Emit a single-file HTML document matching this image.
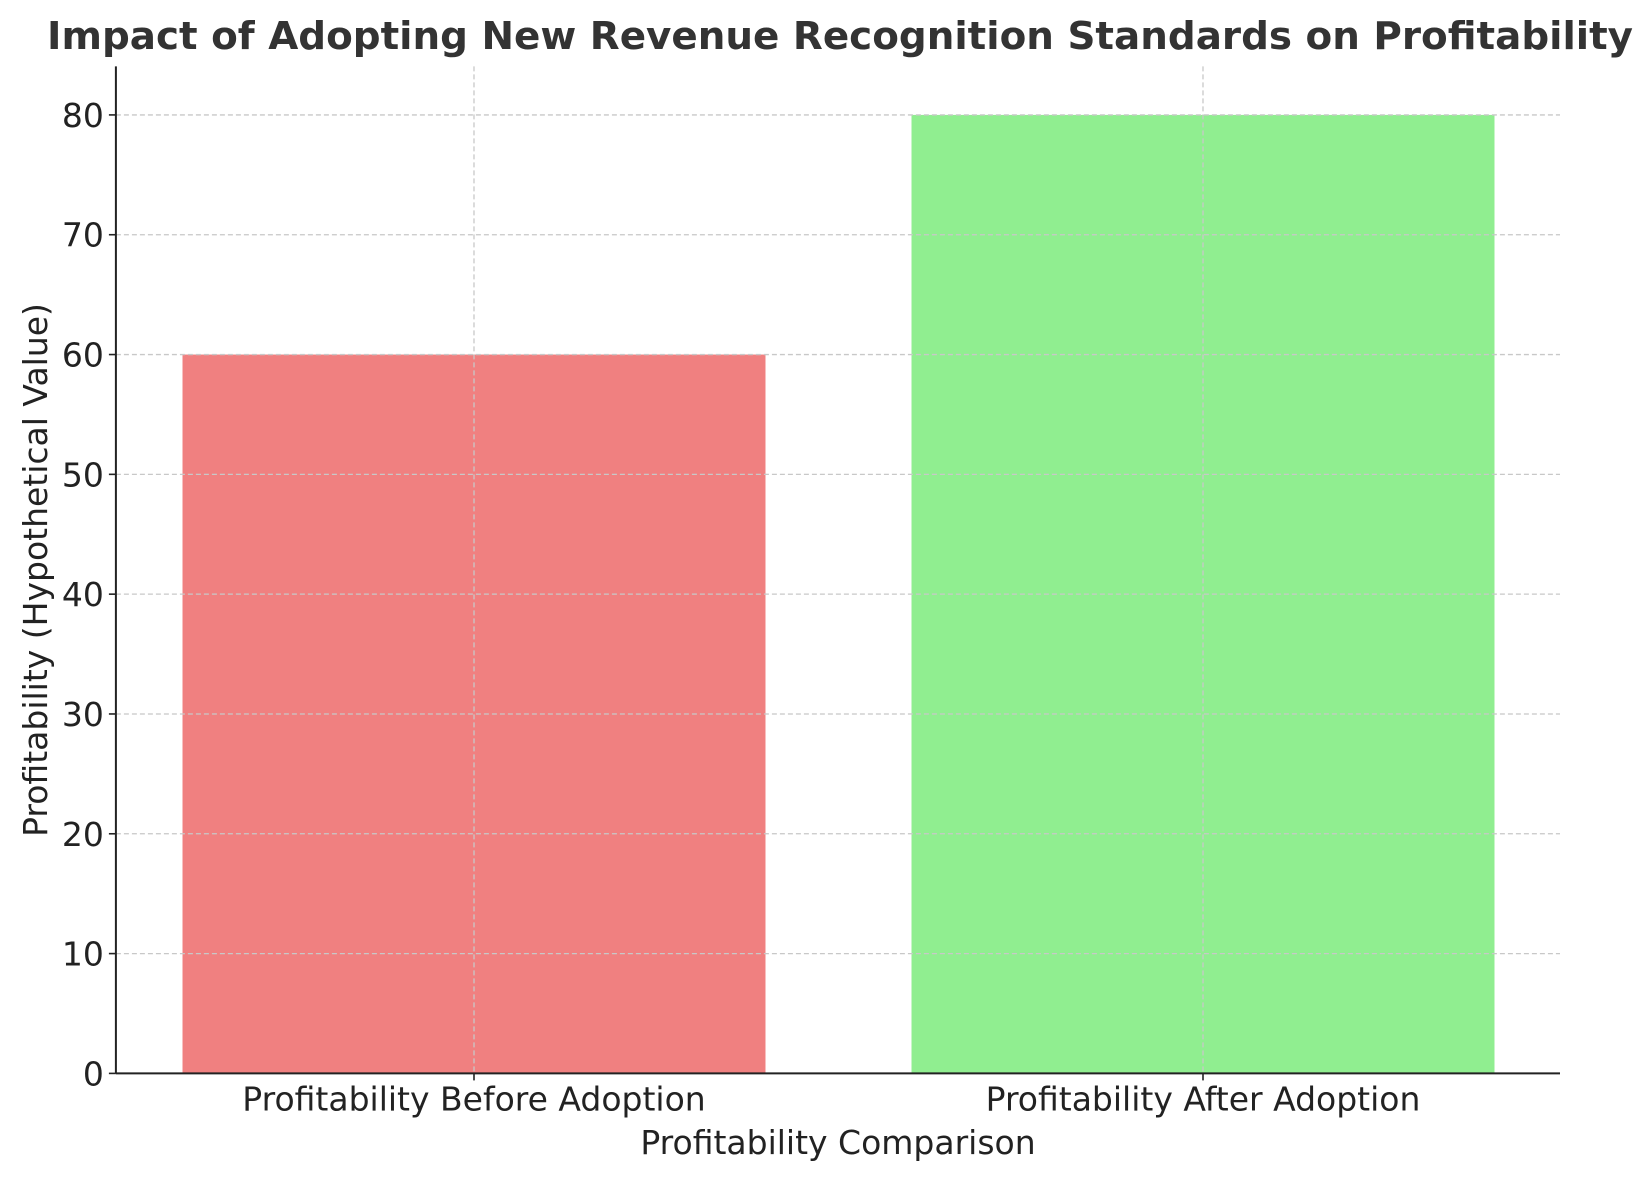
<!DOCTYPE html>
<html><head><meta charset="utf-8"><style>
html,body{margin:0;padding:0;background:#fff;}
svg{display:block;font-family:"DejaVu Sans","Liberation Sans",sans-serif;}
</style></head><body>
<svg id="chart" width="1651" height="1180" viewBox="0 0 1651 1180" xmlns="http://www.w3.org/2000/svg">
<rect width="1651" height="1180" fill="#fff"/>
<text x="840" y="49" text-anchor="middle" font-size="38" font-weight="bold" fill="#333" textLength="1586" lengthAdjust="spacingAndGlyphs">Impact of Adopting New Revenue Recognition Standards on Profitability</text>
<g id="grid"></g>
<g id="bars"></g>
<g id="axes"></g>
<text x="838" y="1154" text-anchor="middle" font-size="33" fill="#222">Profitability Comparison</text>
<text transform="translate(47,570) rotate(-90)" text-anchor="middle" font-size="33" fill="#222">Profitability (Hypothetical Value)</text>
</svg>
<script>
const categories = ["Profitability Before Adoption", "Profitability After Adoption"];
const values = [60, 80];
const barColors = ["#f08080", "#90ee90"];
const yTicks = [0, 10, 20, 30, 40, 50, 60, 70, 80];

const NS = "http://www.w3.org/2000/svg";
const L = 115.9, R = 1560, T = 66.4, B = 1073.4;
const yMax = 84.05;
const y = v => B - v / yMax * (B - T);
const x = i => 474 + i * 729;
const bw = 583;
function mk(tag, attrs, parent) {
  const e = document.createElementNS(NS, tag);
  for (const k in attrs) e.setAttribute(k, attrs[k]);
  parent.appendChild(e);
  return e;
}
const grid = document.getElementById('grid');
const bars = document.getElementById('bars');
const axes = document.getElementById('axes');

yTicks.forEach(t => {
  if (t > 0) {
    const g = mk('line', {x1: L, x2: R, y1: y(t), y2: y(t), stroke: '#c8c8c8', 'stroke-width': 1.3, 'stroke-dasharray': '5,3'}, grid);
    
    
  }
  const tk = mk('line', {x1: L - 7, x2: L, y1: y(t), y2: y(t), stroke: '#222', 'stroke-width': 1.6}, axes);
  
  
  const lb = mk('text', {x: L - 12, y: y(t) + 12, 'text-anchor': 'end', 'font-size': 33, fill: '#222'}, axes);
  lb.textContent = t;
  
  
});
categories.forEach((c, i) => {
  const r = mk('rect', {x: x(i) - bw / 2, y: y(values[i]), width: bw, height: B - y(values[i]), fill: barColors[i]}, bars);
  
  
  const g = mk('line', {x1: x(i), x2: x(i), y1: T, y2: B, stroke: '#c8c8c8', 'stroke-width': 1.3, 'stroke-dasharray': '5,3'}, grid);
  
  
  const tk = mk('line', {x1: x(i), x2: x(i), y1: B, y2: B + 7, stroke: '#222', 'stroke-width': 1.6}, axes);
  
  
  const lb = mk('text', {x: x(i), y: B + 37, 'text-anchor': 'middle', 'font-size': 33, fill: '#222'}, axes);
  lb.textContent = c;
  
  
});
document.getElementById('chart').insertBefore(bars, grid);
const ya = mk('line', {x1: L, x2: L, y1: T, y2: B, stroke: '#222', 'stroke-width': 2}, axes);


const xa = mk('line', {x1: L, x2: R, y1: B, y2: B, stroke: '#222', 'stroke-width': 2}, axes);


</script>
</body></html>
